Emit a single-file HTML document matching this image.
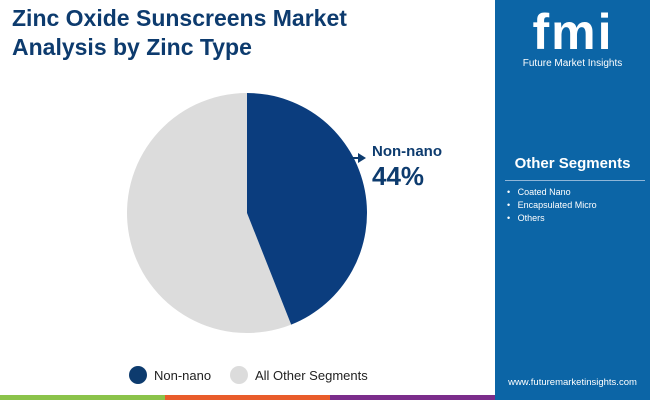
<!DOCTYPE html>
<html><head><meta charset="utf-8"><style>
body{margin:0;width:650px;height:400px;position:relative;overflow:hidden;background:#fff;font-family:"Liberation Sans",sans-serif}
.t{position:absolute;left:12px;top:4px;font-size:23px;font-weight:bold;color:#0d3b6e;line-height:29px}
.panel{position:absolute;left:495px;top:0;width:155px;height:400px;background:#0c65a6}
</style></head><body>
<div class="t">Zinc Oxide Sunscreens Market<br>Analysis by Zinc Type</div>
<div class="panel">
 <div style="position:absolute;left:28px;top:8px;width:100px;height:48px;color:#fff;font-size:50px;font-weight:bold;line-height:48px;letter-spacing:2px;text-align:center">fmi</div>
 <div style="position:absolute;left:0;width:155px;top:58px;text-align:center;color:#fff;font-size:10px">Future Market Insights</div>
 <div style="position:absolute;left:0;width:155px;top:155px;text-align:center;color:#fff;font-size:15px;font-weight:bold">Other Segments</div>
 <div style="position:absolute;left:10px;top:180px;width:140px;height:1px;background:#8fb6d8"></div>
 <div style="position:absolute;left:12px;top:186px;color:#fff;font-size:9px;line-height:13px">•&nbsp;&nbsp;&nbsp;Coated Nano<br>•&nbsp;&nbsp;&nbsp;Encapsulated Micro<br>•&nbsp;&nbsp;&nbsp;Others</div>
 <div style="position:absolute;left:0;width:155px;top:377px;text-align:center;color:#fff;font-size:9.5px">www.futuremarketinsights.com</div>
</div>
<svg id="c" width="495" height="400" style="position:absolute;left:0;top:0">
 <text x="372" y="156" font-size="15" font-weight="bold" fill="#0d3b6e">Non-nano</text>
 <text x="372" y="185" font-size="26" font-weight="bold" fill="#0d3b6e">44%</text>
 <line x1="350" y1="158" x2="360" y2="158" stroke="#0d3b6e" stroke-width="2"/>
 <polygon points="358,153 366,158 358,163" fill="#0d3b6e"/>
 <circle cx="138" cy="375" r="9" fill="#0d3b6e"/>
 <text x="154" y="380" font-size="13" fill="#222">Non-nano</text>
 <circle cx="239" cy="375" r="9" fill="#dcdcdc"/>
 <text x="255" y="380" font-size="13" fill="#222">All Other Segments</text>
 <rect x="0" y="395" width="165" height="5" fill="#8bc34a"/>
 <rect x="165" y="395" width="165" height="5" fill="#e95c2b"/>
 <rect x="330" y="395" width="165" height="5" fill="#7b2d8b"/>
</svg>
<script>
const categories=["Non-nano","All Other Segments"];
const values=[44,56];
const colors=["#0b3d7e","#dcdcdc"];
const svg=document.getElementById('c');
const cx=247,cy=213,r=120;
let a0=0;const tot=values.reduce((a,b)=>a+b,0);
const ns="http://www.w3.org/2000/svg";
values.forEach((v,i)=>{
 const a1=a0+v/tot*2*Math.PI;
 const p=(a)=>[cx+r*Math.sin(a),cy-r*Math.cos(a)];
 const [x0,y0]=p(a0),[x1,y1]=p(a1);
 const path=document.createElementNS(ns,'path');
 path.setAttribute('d',`M${cx},${cy}L${x0},${y0}A${r},${r} 0 ${a1-a0>Math.PI?1:0} 1 ${x1},${y1}Z`);
 path.setAttribute('fill',colors[i]);
 
 
 svg.insertBefore(path,svg.firstChild);
 a0=a1;
});
</script>
</body></html>
